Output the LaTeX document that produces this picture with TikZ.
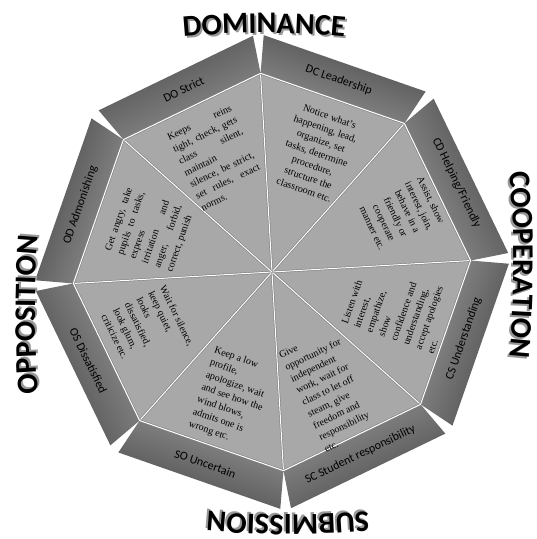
\documentclass[tikz,border=0pt]{standalone}
\usepackage{fontspec}
\setmainfont{Liberation Serif}
\newfontfamily\calfont{Carlito}
\usetikzlibrary{calc,decorations.text}
\newcommand\spread[2]{\makebox[#1][s]{#2}}

\begin{document}
\begin{tikzpicture}[x=1pt,y=1pt,
    sector/.style={fill=black!34},
    band/.style={top color=black!72,bottom color=black!42},
    seam/.style={draw=black!50,double=white,double distance=1pt,line width=0.6pt},
    lbl/.style={font=\calfont\fontsize{12}{14}\selectfont,inner sep=0pt},
    txt/.style={font=\fontsize{10}{13}\selectfont,inner sep=0pt,align=#1},
    head/.style={decorate,decoration={text along path,text align=center,
      text={|\calfont\bfseries\fontsize{30}{32}\selectfont|#1}}},
    headshade/.style={head=#1,decoration={text color=black!40}}]
  \useasboundingbox (-272,-267) rectangle (265,272);
  % corners of the octagon, top one first
  \foreach \k in {0,...,7}
    \coordinate (v\k) at ({93.3-45*\k}:199);
  % outer bands
  \foreach \k in {0,...,7}{
    \pgfmathsetmacro{\a}{93.3-45*\k}
    \pgfmathsetmacro{\b}{\a-45}
    \pgfmathsetmacro{\s}{\a-112.5}
    \shade[band,shading angle=\s]
      (\a:199) -- ({\a-1.3}:237) -- ({\b+1.3}:237) -- (\b:199) -- cycle;
  }
  % inner octagon and its eight wedges
  \fill[sector] (v0) \foreach \k in {1,...,7}{ -- (v\k)} -- cycle;
  \foreach \k in {0,...,7}
    \draw[seam] (0,0) -- (v\k);
  \draw[seam] (v0) \foreach \k in {1,...,7}{ -- (v\k)} -- cycle;

  % band labels
  \node[lbl,rotate=25.8]  (bDO) at (115.8:203)  {DO Strict};
  \node[lbl,rotate=-19.2] (bDC) at (70.8:203)   {DC Leadership};
  \node[lbl,rotate=-64.2] (bCD) at (25.8:205)   {CD Helping/Friendly};
  \node[lbl,rotate=70.8]  (bCS) at (-19.2:203)  {CS Understanding};
  \node[lbl,rotate=25.8]  (bSC) at (-64.2:203)  {SC Student responsibility};
  \node[lbl,rotate=-19.2] (bSO) at (-109.2:203) {SO Uncertain};
  \node[lbl,rotate=-64.2] (bOS) at (-154.2:204) {OS Dissatisfied};
  \node[lbl,rotate=70.8]  (bOD) at (160.8:203)  {OD Admonishing};

  % wedge texts
  \node[txt=left,rotate=25.8] (tDO) at (116:127)
    {\spread{70pt}{Keeps reins}\\\spread{70pt}{tight, check, gets}\\\spread{70pt}{class silent,}\\maintain\\
     \spread{70pt}{silence, be strict,}\\\spread{70pt}{set rules, exact}\\norms.};
  \node[txt=center,rotate=-19.2] (tDC) at (69.3:127)
    {Notice what’s\\happening, lead,\\organize, set\\tasks, determine\\procedure,\\structure the\\classroom etc.};
  \node[txt=center,rotate=-64.2] (tCD) at (24:142)
    {Assist, show\\interest, join,\\behave in a\\friendly or\\cooperate\\manner etc.};
  \node[txt=left,rotate=70.8] (tCS) at (-15.5:131)
    {Listen with\\interest,\\empathize,\\show\\confidence and\\understanding,\\accept apologies\\etc.};
  \node[txt=left,rotate=25.8] (tSC) at (-63.8:131)
    {Give\\opportunity for\\independent\\work, wait for\\class to let off\\steam, give\\freedom and\\responsibility\\etc.};
  \node[txt=left,rotate=-19.2] (tSO) at (-107.6:132)
    {Keep a low\\profile,\\apologize, wait\\and see how the\\wind blows,\\admits one is\\wrong etc.};
  \node[txt=left,rotate=-64.2] (tOS) at (-155:137)
    {Wait for silence,\\keep quiet,\\looks\\dissatisfied,\\look glum,\\criticize etc.};
  \node[txt=left,rotate=70.8] (tOD) at (161:129)
    {\spread{66pt}{Get angry, take}\\\spread{66pt}{pupils to tasks,}\\express\\\spread{66pt}{irritation and}\\
     \spread{66pt}{anger, forbid,}\\correct, punish};

  % the four headings, slightly arched, each with its grey shadow
  \path[headshade=DOMINANCE] ($(-6,-663)+(96:900)$) arc[start angle=96,end angle=84,radius=900];
  \path[head=DOMINANCE] ($(-8,-661)+(96:900)$) arc[start angle=96,end angle=84,radius=900];
  \path[headshade=COOPERATION] ($(-660,5)+(6.5:900)$) arc[start angle=6.5,end angle=-6.5,radius=900];
  \path[head=COOPERATION] ($(-658,7)+(6.5:900)$) arc[start angle=6.5,end angle=-6.5,radius=900];
  \path[headshade=SUBMISSION] ($(14,659)+(-84:900)$) arc[start angle=-84,end angle=-96,radius=900];
  \path[head=SUBMISSION] ($(16,657)+(-84:900)$) arc[start angle=-84,end angle=-96,radius=900];
  \path[headshade=OPPOSITION] ($(665,-41)+(186.5:900)$) arc[start angle=186.5,end angle=173.5,radius=900];
  \path[head=OPPOSITION] ($(663,-43)+(186.5:900)$) arc[start angle=186.5,end angle=173.5,radius=900];
\end{tikzpicture}
\end{document}
